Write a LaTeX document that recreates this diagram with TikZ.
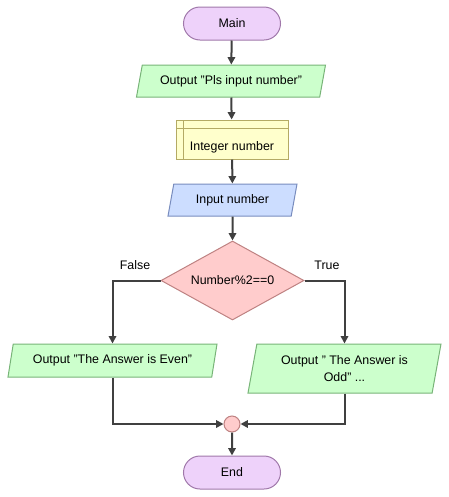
\documentclass[tikz,border=0pt]{standalone}
\usepackage{fontspec}
\setmainfont{Liberation Sans}
\usetikzlibrary{shapes.geometric,shapes.misc,arrows.meta}
\definecolor{termF}{RGB}{238,210,250}
\definecolor{termB}{RGB}{160,120,170}
\definecolor{outF}{RGB}{204,255,204}
\definecolor{outB}{RGB}{120,180,120}
\definecolor{declF}{RGB}{255,255,204}
\definecolor{declB}{RGB}{180,170,100}
\definecolor{inF}{RGB}{204,221,255}
\definecolor{inB}{RGB}{120,140,190}
\definecolor{decF}{RGB}{255,204,204}
\definecolor{decB}{RGB}{190,130,130}
\definecolor{arr}{RGB}{64,64,64}
\begin{document}
\begin{tikzpicture}[x=0.75pt,y=-0.75pt,
  font=\fontsize{9.3}{12.4}\selectfont,
  base/.style={line width=0.75pt, inner sep=0pt, align=center},
  term/.style={base, rounded rectangle, draw=termB, fill=termF,
    minimum width=97*0.75pt, minimum height=33*0.75pt},
  io/.style={base, trapezium, trapezium left angle=#1, trapezium right angle=180-#1,
    trapezium stretches body},
  outbox/.style={draw=outB, fill=outF},
  inbox/.style={draw=inB, fill=inF},
  declbox/.style={base, rectangle, draw=declB, fill=declF,
    minimum width=112*0.75pt, minimum height=39*0.75pt,
    path picture={
      \draw[declB, line width=0.75pt]
        ([xshift=7*0.75pt]path picture bounding box.north west) --
        ([xshift=7*0.75pt]path picture bounding box.south west);
      \draw[declB, line width=0.75pt]
        ([yshift=-8*0.75pt]path picture bounding box.north west) --
        ([yshift=-8*0.75pt]path picture bounding box.north east);
    }},
  decision/.style={base, diamond, aspect=1.8, draw=decB, fill=decF,
    minimum width=143*0.75pt, minimum height=79*0.75pt},
  junction/.style={base, circle, draw=decB, fill=decF, minimum size=16*0.75pt},
  flow/.style={draw=arr, line width=1.5pt, -{Triangle[length=5.5pt,width=5.5pt]}},
  lbl/.style={inner sep=0pt}
]
\useasboundingbox (0,0) rectangle (449,497);

\node[term] (main) at (232,23.5) {Main};
\node[io=63.4, outbox, minimum width=189*0.75pt, minimum height=32*0.75pt] (pls) at (231,81) {Output "Pls input number"};
\node[declbox] (decl) at (232,139.5) {\raisebox{-8pt}[0pt][0pt]{Integer number}};
\node[io=63.4, inbox, minimum width=129*0.75pt, minimum height=32*0.75pt] (inp) at (232.5,200) {Input number};
\node[decision] (dec) at (232.5,280.5) {Number\%2==0};
\node[io=65.6, outbox, minimum width=209*0.75pt, minimum height=33*0.75pt] (even) at (112.5,360.5) {Output "The Answer is Even"};
\node[io=70.9, outbox, minimum width=193*0.75pt, minimum height=49*0.75pt] (odd) at (344.5,368.5) {Output " The Answer is\\Odd" ...};
\node[junction] (join) at (232,424) {};
\node[term] (end) at (232,472.5) {End};

\draw[flow] (main) -- (pls);
\draw[flow] (pls) -- (decl);
\draw[flow] (decl) -- (inp);
\draw[flow] (inp) -- (dec);
\draw[flow] (dec.west) -| (even.north);
\draw[flow] (dec.east) -| (odd.north);
\draw[flow] (even.south) |- (join.west);
\draw[flow] (odd.south) |- (join.east);
\draw[flow] (join) -- (end);

\node[lbl] (flbl) at (135,265) {False};
\node[lbl] (tlbl) at (327,265) {True};
\end{tikzpicture}
\end{document}
